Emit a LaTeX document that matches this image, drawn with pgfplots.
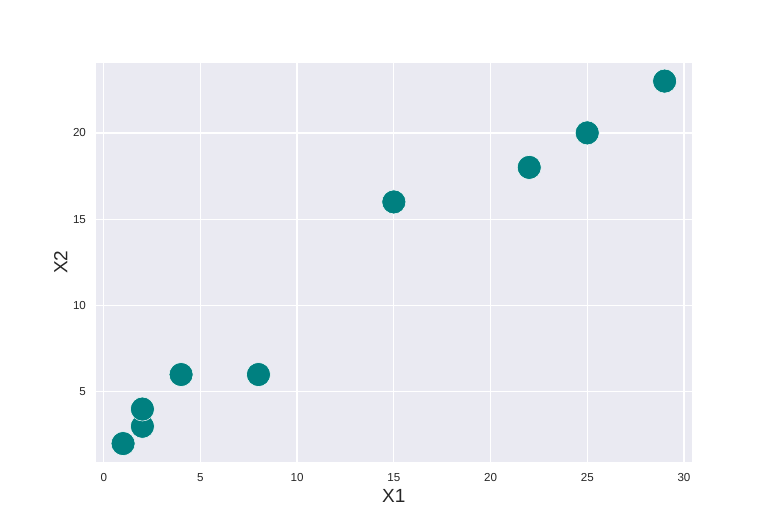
\documentclass[border=0pt]{standalone}
\usepackage{pgfplots}
\pgfplotsset{compat=1.18}
\usepackage{fontspec}
\setmainfont{Liberation Sans}
\definecolor{bgc}{HTML}{EAEAF2}
\definecolor{tickc}{HTML}{262626}
\definecolor{teal2}{HTML}{008080}
\begin{document}
\begin{tikzpicture}
\path[use as bounding box] (0,0) rectangle (384pt,264pt);
\begin{axis}[
  at={(48pt,33.15pt)}, anchor=south west,
  scale only axis, width=297.85pt, height=199.35pt,
  xmin=-0.4, xmax=30.4, ymin=0.95, ymax=24.05,
  axis background/.style={fill=bgc},
  axis line style={draw=none},
  major tick length=0pt,
  xtick={0,5,10,15,20,25,30},
  ytick={5,10,15,20},
  grid=major,
  major grid style={white, line width=0.65pt},
  /pgf/number format/assume math mode=true,
  tick label style={font=\fontsize{5.8}{7}\selectfont, text=tickc},
  xticklabel style={yshift=-2.3pt},
  yticklabel style={xshift=-1.5pt},
  xlabel={X1}, ylabel={X2},
  label style={font=\fontsize{9.5}{11}\selectfont, text=tickc},
  xlabel style={yshift=3pt},
  ylabel style={yshift=-4pt},
]
\addplot[only marks, mark=*, mark size=6pt, mark options={fill=teal2, draw=white, line width=0.25pt}]
coordinates {(1,2) (2,3) (2,4) (4,6) (8,6) (15,16) (22,18) (25,20) (29,23)};
\end{axis}
\end{tikzpicture}
\end{document}
